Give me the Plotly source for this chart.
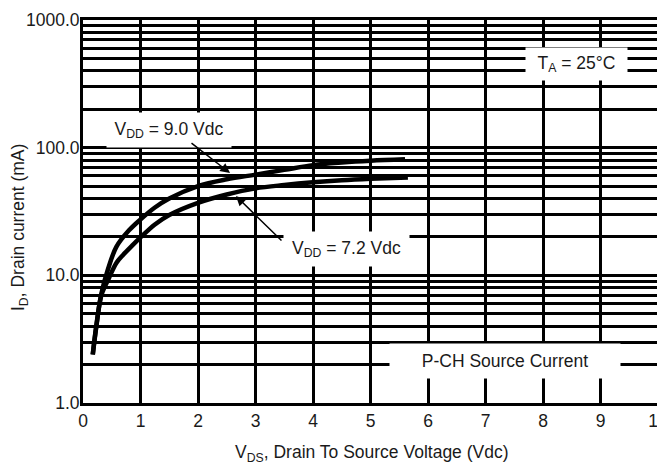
import plotly.graph_objects as go

# Data
vds_9v = [0.17, 0.23, 0.32, 0.43, 0.58, 0.8, 1.0, 1.25, 1.5, 2.0, 2.5, 3.0, 3.5, 4.0, 4.5, 5.0, 5.6]
id_9v = [2.4, 4.0, 7.2, 11, 16.7, 22.5, 27.4, 34, 40, 50, 56.5, 61.5, 67, 73, 76.5, 79, 81]

vds_72v = [0.17, 0.23, 0.32, 0.45, 0.58, 0.7, 0.85, 1.0, 1.25, 1.5, 2.0, 2.5, 3.0, 3.5, 4.0, 4.5, 5.0, 5.65]
id_72v = [2.4, 3.9, 7.0, 9.5, 12.5, 14.5, 17, 19.8, 25, 29.7, 37, 43, 48, 51, 53.5, 55.5, 57, 58.5]

x_ticks = list(range(0, 11))
y_grid = [m * 10 ** d for d in range(0, 3) for m in range(1, 10)] + [1000]
y_ticktext = [("%.1f" % v) if v in (1, 10, 100, 1000) else "" for v in y_grid]

FONT = "Liberation Sans, Arial, Helvetica, sans-serif"
FS = 17.5
TXT = "#1a1a1a"

# page body margin of the HTML page shifts the figure; compensate
OFF = 8
L, R, T, B = 83 - OFF, 658 - OFF, 20 - OFF, 403 - OFF
W, H = 665 - OFF, 468 - OFF

fig = go.Figure()
fig.add_trace(go.Scatter(x=vds_9v, y=id_9v, mode="lines", line=dict(color="black", width=4.5, shape="spline"),
                         showlegend=False, hoverinfo="skip"))
fig.add_trace(go.Scatter(x=vds_72v, y=id_72v, mode="lines", line=dict(color="black", width=4.5, shape="spline"),
                         showlegend=False, hoverinfo="skip"))

fig.update_layout(
    width=W, height=H,
    margin=dict(l=L, r=W - R, t=T, b=H - B),
    paper_bgcolor="white", plot_bgcolor="white",
    font=dict(family=FONT, size=FS, color=TXT),
    xaxis=dict(range=[0, 10], tickvals=x_ticks, showgrid=True, gridcolor="black", gridwidth=3,
               showline=True, linecolor="black", linewidth=3, mirror=True, zeroline=False,
               ticks="", automargin=False, ticklabeloverflow="allow"),
    yaxis=dict(type="log", range=[0, 3], tickvals=y_grid, ticktext=y_ticktext, showgrid=True,
               gridcolor="black", gridwidth=3, showline=True, linecolor="black", linewidth=3,
               mirror=True, zeroline=False, ticks="", automargin=False, ticklabelstandoff=-3,
               ticklabeloverflow="allow"),
)

def label(text, x, y, w, h):
    fig.add_annotation(x=x, y=y, xref="x", yref="y", text=text, showarrow=False,
                       bgcolor="white", width=w, height=h, borderpad=0,
                       font=dict(family=FONT, size=FS, color=TXT))

label("V<sub>DD</sub> = 9.0 Vdc", 1.50, 2.138, 124, 34)
label("V<sub>DD</sub> = 7.2 Vdc", 4.59, 1.206, 125, 34)
label("T<sub>A</sub> = 25°C", 8.59, 2.655, 101, 32)
label("P-CH Source Current", 7.34, 0.329, 230, 34)

def arrow(hx, hy, tx, ty):
    fig.add_annotation(x=hx, y=hy, xref="x", yref="y", ax=tx, ay=ty, axref="x", ayref="y",
                       text="", showarrow=True, arrowhead=2, arrowsize=1.3, arrowwidth=1.5,
                       arrowcolor="black")

arrow(2.557, 1.801, 1.861, 2.044)
arrow(2.66, 1.621, 3.478, 1.261)

def px_to_paper(px, py):
    return (px - OFF - L) / (R - L), (B - (py - OFF)) / (B - T)

# Axis titles as annotations for exact placement
yx, yy = px_to_paper(19, 228)
fig.add_annotation(x=yx, y=yy, xref="paper", yref="paper", text="I<sub>D</sub>, Drain current (mA)",
                   showarrow=False, textangle=-90, xanchor="center", yanchor="middle",
                   font=dict(family=FONT, size=FS, color=TXT))
xx, xy = px_to_paper(372, 453)
fig.add_annotation(x=xx, y=xy, xref="paper", yref="paper",
                   text="V<sub>DS</sub>, Drain To Source Voltage (Vdc)",
                   showarrow=False, xanchor="center", yanchor="middle",
                   font=dict(family=FONT, size=FS, color=TXT))

fig.write_html("out.html")
